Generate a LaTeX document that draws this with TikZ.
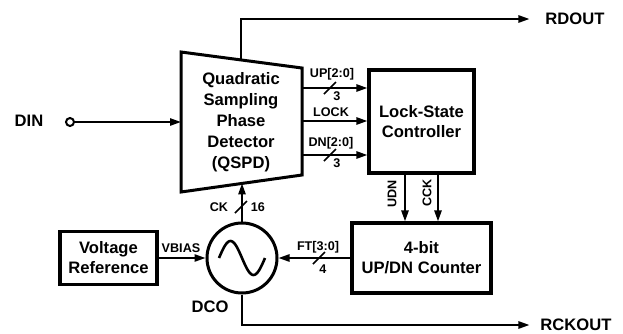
\documentclass[tikz,border=0pt]{standalone}
\usepackage{fontspec}
\setmainfont{Liberation Sans}
\usetikzlibrary{arrows.meta}

\newcommand{\busmark}[1]{\draw[line width=0.8pt] (#1) ++(-6,6) -- ++(12,-12);}

\begin{document}
\begin{tikzpicture}[x=0.5pt, y=-0.5pt, line width=1pt,
      >={Triangle[length=5.5pt,width=3.6pt]},
      blk/.style={draw, line width=1.6pt, inner sep=0pt, align=center,
                  font=\bfseries\fontsize{8.3}{10}\selectfont},
      lbl/.style={inner sep=0pt, align=center, font=\bfseries\fontsize{8.3}{10}\selectfont},
      sig/.style={inner sep=0pt, font=\bfseries\fontsize{6.3}{7.5}\selectfont}]

    \useasboundingbox (0,0) rectangle (623,333);

    % QSPD trapezoid (corners, then the taps on its edges)
    \coordinate (qtl) at (181,52);
    \coordinate (qtr) at (302,68);
    \coordinate (qbr) at (302,175);
    \coordinate (qbl) at (181,192);
    \draw[line width=1.5pt] (qtl) -- (qtr) -- (qbr) -- (qbl) -- cycle;
    \node[lbl, font=\bfseries\fontsize{8.3}{10.5}\selectfont] (qspd) at (241,122)
      {Quadratic\\Sampling\\Phase\\Detector\\(QSPD)};
    \coordinate (qin) at (181,122);
    \coordinate (qrd) at (241,60);
    \coordinate (qup) at (302,88);
    \coordinate (qlk) at (302,121);
    \coordinate (qdn) at (302,155);
    \coordinate (qck) at (242,183.4);

    % blocks
    \node[blk, minimum width=52.5pt, minimum height=51.5pt] (lsc) at (421.5,121.5) {Lock-State\\Controller};
    \node[blk, minimum width=69.5pt, minimum height=35pt] (cnt) at (421.5,258) {4-bit\\UP/DN Counter};
    \node[blk, minimum width=48.5pt, minimum height=26.5pt] (vref) at (108.5,258) {Voltage\\Reference};
    \node[draw, circle, line width=1.5pt, minimum size=35pt, inner sep=0pt] (dco) at (242,258) {};
    \draw[line width=1.3pt] plot[domain=0:360, samples=40] ({219+\x/360*46}, {258-17*sin(\x)});
    \node[lbl] (dcolbl) at (210,307) {DCO};

    % input and outputs
    \node[lbl] (din) at (29,121) {DIN};
    \node[draw, circle, minimum size=4pt, inner sep=0pt] (dinc) at (70,122) {};
    \draw[->] (dinc) -- (qin);
    \node[lbl] (rdout) at (575,19) {RDOUT};
    \draw[->, shorten >=7.5pt] (qrd) |- (rdout.west);
    \node[lbl] (rckout) at (576,325) {RCKOUT};
    \draw[->, shorten >=5pt] (dco.south) |- (rckout.west);

    % QSPD -> controller
    \draw[->] (qup) -- (qup -| lsc.west);
    \draw[->] (qlk) -- (qlk -| lsc.west);
    \draw[->] (qdn) -- (qdn -| lsc.west);
    \node[sig] (uplbl) at (332,74) {UP[2:0]};
    \node[sig] (lklbl) at (331,112) {LOCK};
    \node[sig] (dnlbl) at (331,143) {DN[2:0]};
    \coordinate (upbus) at (330,88);
    \coordinate (dnbus) at (330,155);
    \busmark{upbus}
    \busmark{dnbus}
    \node[sig] (upw) at (337,96) {3};
    \node[sig] (dnw) at (337,163) {3};

    % controller -> counter
    \coordinate (udn) at (405,173);
    \coordinate (cck) at (438,173);
    \draw[->] (udn) -- (udn |- cnt.north);
    \draw[->] (cck) -- (cck |- cnt.north);
    \node[sig, rotate=90] (udnlbl) at (392,194) {UDN};
    \node[sig, rotate=90] (ccklbl) at (427,193) {CCK};

    % counter / reference -> DCO
    \draw[->] (cnt.west) -- (dco.east);
    \node[sig] (ftlbl) at (318,247) {FT[3:0]};
    \coordinate (ftbus) at (319,258);
    \busmark{ftbus}
    \node[sig] (ftw) at (323,269) {4};
    \draw[->] (vref.east) -- (dco.west);
    \node[sig] (vblbl) at (181,248) {VBIAS};

    % DCO -> QSPD clocks
    \draw[->] (dco.north) -- (qck);
    \coordinate (ckbus) at (241,207);
    \busmark{ckbus}
    \node[sig] (cklbl) at (219,207) {CK};
    \node[sig] (ckw) at (258,207) {16};

\end{tikzpicture}
\end{document}
